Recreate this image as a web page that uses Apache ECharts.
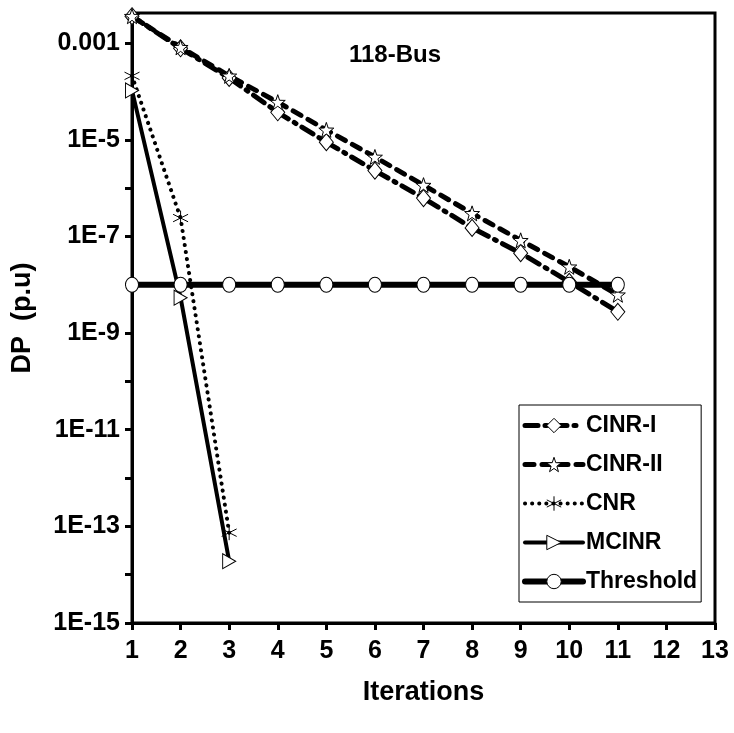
<!DOCTYPE html>
<html><head><meta charset="utf-8">
<script src="https://cdn.jsdelivr.net/npm/echarts@6/dist/echarts.min.js"></script>
<style>html,body{margin:0;padding:0;background:#fff}#c{width:734px;height:733px}</style>
</head><body><div id="c"></div>
<script>
// ---- data ----
const iterations = [1,2,3,4,5,6,7,8,9,10,11];
const cinr1 = [3.6e-3, 7.8e-4, 1.9e-4, 3.7e-5, 8.9e-6, 2.3e-6, 6.2e-7, 1.5e-7, 4.5e-8, 1.15e-8, 2.75e-9];
const cinr2 = [3.6e-3, 8.2e-4, 2.1e-4, 6.0e-5, 1.6e-5, 4.4e-6, 1.15e-6, 3.0e-7, 8.3e-8, 2.35e-8, 6.2e-9];
const cnrX = [1,2,3];
const cnr = [2.1e-4, 2.4e-7, 7.4e-14];
const mcinrX = [1,2,3];
const mcinr = [1.05e-4, 5.4e-9, 1.9e-14];
const threshold = [1e-8,1e-8,1e-8,1e-8,1e-8,1e-8,1e-8,1e-8,1e-8,1e-8,1e-8];
const seriesNames = ['CINR-I','CINR-II','CNR','MCINR','Threshold'];
const xTicks = [1,2,3,4,5,6,7,8,9,10,11,12,13];
const yLabelExps = [-15,-13,-11,-9,-7,-5,-3];
const yTickExps = [-15,-14,-13,-12,-11,-10,-9,-8,-7,-6,-5,-4,-3];

const FONT = "'Liberation Sans Narrow','Arial Narrow','Liberation Sans',Arial,sans-serif";
const zip = (xs, ys) => xs.map((x,i)=>[x, ys[i]]);
const STAR = 'path://M0,-10 L2.35,-3.24 L9.51,-3.09 L3.8,1.24 L5.88,8.09 L0,4 L-5.88,8.09 L-3.8,1.24 L-9.51,-3.09 L-2.35,-3.24 Z';
const AST = 'path://M0,-10 L0,10 M-8.66,-5 L8.66,5 M-8.66,5 L8.66,-5';
const TRI = 'path://M0,0 L10,6 L0,12 Z';
const markerStyle = {color:'#fff', borderColor:'#000', borderWidth:1};
const styles = {
  'CINR-I':{width:5, type:[13,7,2,7]},
  'CINR-II':{width:5, type:[9,8]},
  'CNR':{width:4, type:[0.1,7]},
  'MCINR':{width:4, type:'solid'},
  'Threshold':{width:6, type:'solid'}
};

const chart = echarts.init(document.getElementById('c'), null, {renderer:'canvas'});
chart.setOption({
  animation:false,
  backgroundColor:'#fff',
  title:{text:'118-Bus', left:344, top:38, textStyle:{fontFamily:FONT, fontWeight:'bold', fontSize:24, color:'#000'}},
  grid:{left:132, right:19, top:13, bottom:110, show:true, borderColor:'#000', borderWidth:3, backgroundColor:'transparent'},
  legend:{
    orient:'vertical', left:519, top:405, width:183,
    data:seriesNames.map(n=>({name:n,
      itemStyle:(n==='CNR'?{color:'#000',borderColor:'#000',borderWidth:1}:markerStyle),
      lineStyle:{color:'#000', width:styles[n].width, type:styles[n].type, cap:'round'}})),
    itemWidth:58, itemHeight:18, itemGap:16,
    padding:[9,4,9,3],
    borderColor:'#000', borderWidth:1,
    textStyle:{fontFamily:FONT, fontWeight:'bold', fontSize:23, color:'#000', padding:[0,0,0,-2]}
  },
  xAxis:{
    type:'value', min:1, max:13, interval:1,
    name:'Iterations', nameLocation:'middle', nameGap:56,
    nameTextStyle:{fontFamily:FONT, fontWeight:'bold', fontSize:27, color:'#000'},
    axisLine:{lineStyle:{color:'#000', width:3}},
    axisTick:{show:true, inside:false, length:7, lineStyle:{width:3, color:'#000'}, customValues:xTicks},
    axisLabel:{fontFamily:FONT, fontWeight:'bold', fontSize:25, color:'#000', margin:16, customValues:xTicks},
    splitLine:{show:false}
  },
  yAxis:{
    type:'log', logBase:10, min:1e-15, max:0.0042,
    name:'DP  (p.u)', nameLocation:'middle', nameGap:96, nameRotate:90,
    nameTextStyle:{fontFamily:FONT, fontWeight:'bold', fontSize:27, color:'#000'},
    axisLine:{lineStyle:{color:'#000', width:3}},
    axisTick:{show:true, length:7, lineStyle:{width:3, color:'#000'}, customValues:yTickExps.map(e=>Math.pow(10,e))},
    axisLabel:{fontFamily:FONT, fontWeight:'bold', fontSize:25, color:'#000', margin:12,
      customValues:yLabelExps.map(e=>Math.pow(10,e)),
      formatter:function(v){const e=Math.round(Math.log10(v)); return e===-3?'0.001':'1E'+e;}},
    splitLine:{show:false}
  },
  series:[
    {name:'CINR-I', type:'line', data:zip(iterations,cinr1), symbol:'diamond', symbolSize:[14,17],
      itemStyle:markerStyle, lineStyle:Object.assign({color:'#000', cap:'round'}, styles['CINR-I']), z:3},
    {name:'CINR-II', type:'line', data:zip(iterations,cinr2), symbol:STAR, symbolSize:15,
      itemStyle:markerStyle, lineStyle:Object.assign({color:'#000', cap:'round'}, styles['CINR-II']), z:3},
    {name:'CNR', type:'line', data:zip(cnrX,cnr), symbol:AST, symbolSize:15,
      itemStyle:{color:'#000', borderColor:'#000', borderWidth:1}, lineStyle:Object.assign({color:'#000', cap:'round'}, styles['CNR']), z:4},
    {name:'MCINR', type:'line', data:zip(mcinrX,mcinr), symbol:TRI, symbolSize:[13,15],
      itemStyle:markerStyle, lineStyle:Object.assign({color:'#000'}, styles['MCINR']), z:4},
    {name:'Threshold', type:'line', data:zip(iterations,threshold), symbol:'circle', symbolSize:[13,15],
      itemStyle:markerStyle, lineStyle:Object.assign({color:'#000'}, styles['Threshold']), z:5}
  ]
});
</script></body></html>
